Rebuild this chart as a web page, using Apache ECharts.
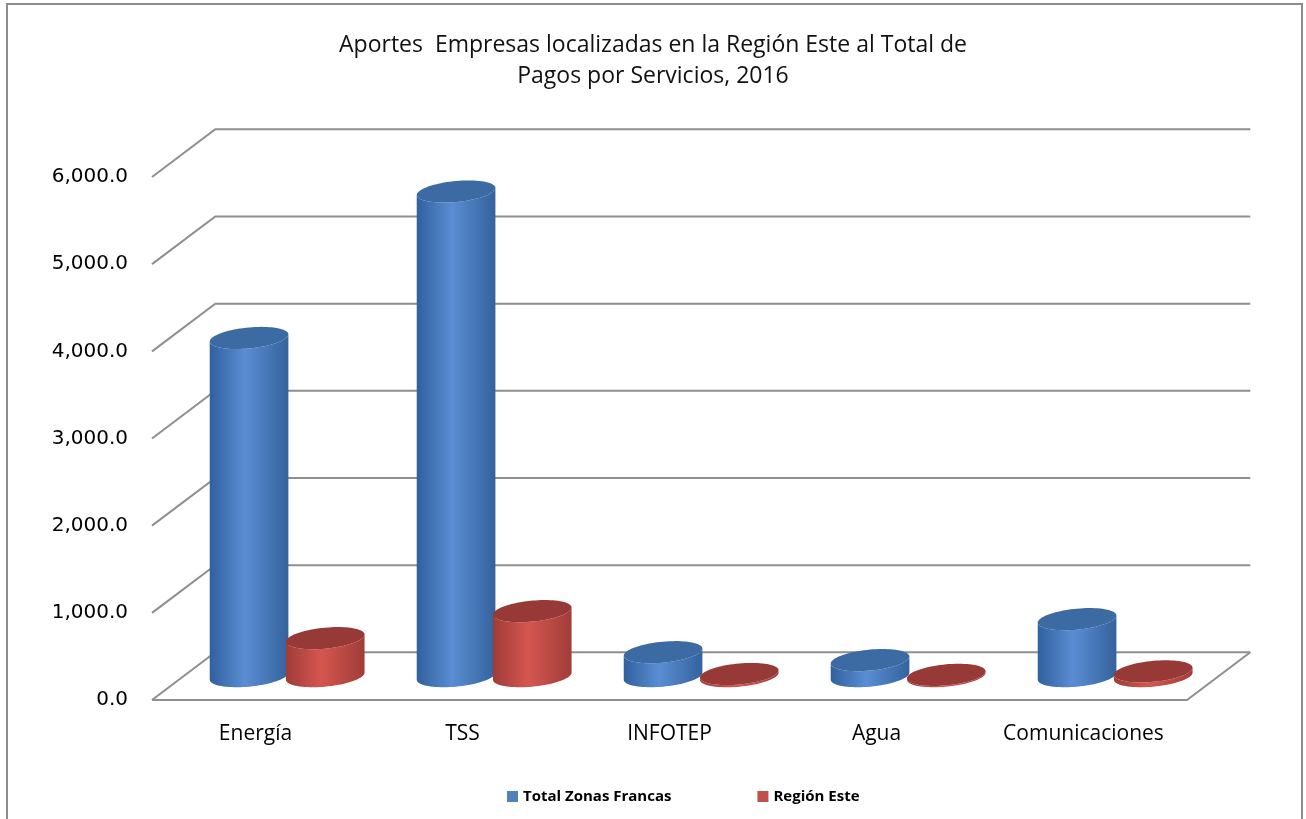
<!DOCTYPE html>
<html lang="es">
<head>
<meta charset="UTF-8" />
<title>Aportes Región Este</title>
<style>
  * { margin: 0; padding: 0; box-sizing: border-box; }
  html, body { background: #fff; }
  #chart { width: 1306px; height: 819px; }
</style>
</head>
<body>
<div id="chart"></div>
<script src="https://cdn.jsdelivr.net/npm/echarts@6/dist/echarts.min.js"></script>
<script>
// datos
var categories = ['Energía', 'TSS', 'INFOTEP', 'Agua', 'Comunicaciones'];
var totalZonasFrancas = [3880, 5560, 275, 184, 654];
var regionEste = [436, 746, 25, 15, 55];
var yTicks = [0, 1000, 2000, 3000, 4000, 5000, 6000];

// profundidad del "3D" (px)
var DX = 63.3, DY = -47.7;

function fmt(v) {
  var s = Math.round(v).toString().replace(/\B(?=(\d{3})+(?!\d))/g, ',');
  return s + '.0';
}

// puntos de una elipse con un leve sesgo (izquierda mas baja)
function arc(cx, cy, rx, ry, k, t0, t1, n) {
  var pts = [];
  for (var j = 0; j <= n; j++) {
    var t = t0 + (t1 - t0) * j / n;
    var x = rx * Math.cos(t);
    pts.push([cx + x, cy + ry * Math.sin(t) - k * x]);
  }
  return pts;
}

function cylinder(offset, c) {
  return function (params, api) {
    var i = api.value(0), v = api.value(1);
    var bw = api.size([1, 0])[0];
    var p0 = api.coord([i, 0]);
    var p1 = api.coord([i, v]);
    var cx = p0[0] + DX / 2 + offset * bw;
    var yb = p0[1] + DY / 2;
    var yt = p1[1] + DY / 2;
    var rx = bw * 0.19, ry = 10.5, k = 0.09;
    var body = arc(cx, yb, rx, ry, k, 0, Math.PI, 40)
      .concat(arc(cx, yt, rx, ry, k, Math.PI, 0, 40));
    var top = arc(cx, yt, rx, ry, k, 0, Math.PI * 2, 80);
    return {
      type: 'group',
      children: [
        {
          type: 'polygon',
          shape: { points: body },
          style: {
            fill: new echarts.graphic.LinearGradient(0, 0, 1, 0, [
              { offset: 0, color: c[0] },
              { offset: 0.45, color: c[1] },
              { offset: 1, color: c[2] }
            ])
          }
        },
        { type: 'polygon', shape: { points: top }, style: { fill: c[3] } }
      ]
    };
  };
}

var chart = echarts.init(document.getElementById('chart'));
chart.setOption({
  backgroundColor: '#fff',
  animation: false,
  graphic: [{
    type: 'rect',
    shape: { x: 7, y: 4, width: 1295, height: 840 },
    style: { fill: 'none', stroke: '#8c8c8c', lineWidth: 2 },
    silent: true
  }],
  title: {
    text: 'Aportes  Empresas localizadas en la Región Este al Total de\nPagos por Servicios, 2016',
    left: 'center',
    top: 25,
    textStyle: {
      fontFamily: 'Open Sans',
      fontSize: 23,
      fontWeight: 'normal',
      color: '#111',
      lineHeight: 31
    }
  },
  legend: {
    data: ['Total Zonas Francas', 'Región Este'],
    left: 502,
    top: 784,
    icon: 'rect',
    itemWidth: 11,
    itemHeight: 11,
    itemGap: 86,
    textStyle: {
      fontFamily: 'Open Sans',
      fontSize: 15,
      fontWeight: 'bold',
      color: '#000'
    }
  },
  grid: { left: 152, right: 119, top: 177, bottom: 119 },
  xAxis: {
    type: 'category',
    data: categories,
    axisLine: { show: false },
    axisTick: { show: false },
    axisLabel: {
      interval: 0,
      margin: 24,
      fontFamily: 'Open Sans',
      fontSize: 21,
      color: '#000'
    }
  },
  yAxis: {
    type: 'value',
    min: 0,
    max: 6000,
    interval: 1000,
    axisLine: { show: false },
    axisTick: { show: false },
    splitLine: { show: false },
    axisLabel: {
      margin: 24,
      fontFamily: 'DejaVu Sans',
      fontSize: 20,
      color: '#000',
      formatter: fmt
    }
  },
  series: [
    {
      type: 'custom',
      silent: true,
      data: yTicks.map(function (v) { return [0, v]; }),
      encode: { x: 0, y: 1 },
      renderItem: function (params, api) {
        var cs = params.coordSys;
        var y = api.coord([0, api.value(1)])[1];
        var x0 = cs.x, w = cs.width;
        var st = { stroke: '#8f8f8f', lineWidth: 2, fill: null };
        var kids = [{
          type: 'polyline',
          shape: { points: [[x0, y], [x0 + DX, y + DY], [x0 + w + DX, y + DY]] },
          style: st
        }];
        if (api.value(1) === 0) {
          kids.push({
            type: 'polyline',
            shape: { points: [[x0, y], [x0 + w, y], [x0 + w + DX, y + DY]] },
            style: st
          });
        }
        return { type: 'group', children: kids };
      }
    },
    {
      name: 'Total Zonas Francas',
      type: 'custom',
      itemStyle: { color: '#4f81bd' },
      data: totalZonasFrancas.map(function (v, i) { return [i, v]; }),
      encode: { x: 0, y: 1 },
      renderItem: cylinder(-0.184, ['#31609e', '#5a8dd3', '#34629c', '#3c6aa3'])
    },
    {
      name: 'Región Este',
      type: 'custom',
      itemStyle: { color: '#c0504d' },
      data: regionEste.map(function (v, i) { return [i, v]; }),
      encode: { x: 0, y: 1 },
      renderItem: cylinder(0.184, ['#a03b38', '#d4574f', '#a13c39', '#973936'])
    }
  ]
});
</script>
</body>
</html>
